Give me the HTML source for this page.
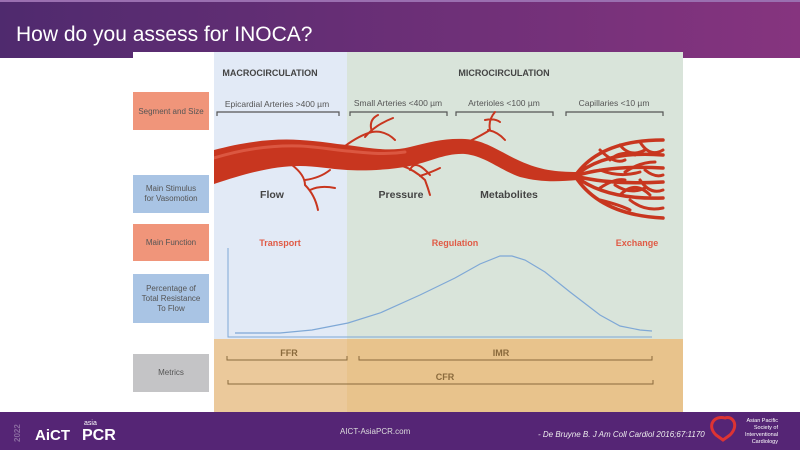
<!DOCTYPE html>
<html><head><meta charset="utf-8"><style>
body{margin:0;width:800px;height:450px;overflow:hidden;background:#fff;font-family:"Liberation Sans",sans-serif}
</style></head><body>
<svg width="800" height="450" xmlns="http://www.w3.org/2000/svg" font-family="Liberation Sans, sans-serif">
<defs>
<linearGradient id="hd" x1="0" x2="1"><stop offset="0" stop-color="#4f2a6e"/><stop offset="1" stop-color="#86347f"/></linearGradient>
<clipPath id="fig"><rect x="214" y="52" width="469" height="287"/></clipPath>
</defs>
<rect width="800" height="58" fill="url(#hd)"/>
<rect y="0" width="800" height="2" fill="#9a6fb0"/>
<text x="16" y="41" fill="#fff" font-size="21">How do you assess for INOCA?</text>
<rect x="133" y="52" width="550" height="360" fill="#fff"/>
<rect x="214" y="52" width="133" height="287" fill="#e2eaf6"/>
<rect x="347" y="52" width="336" height="287" fill="#d9e4da"/>
<rect x="214" y="339" width="133" height="73" fill="#ebc99b"/>
<rect x="347" y="339" width="336" height="73" fill="#e8c38c"/>
<g font-weight="bold" font-size="9" fill="#444" text-anchor="middle">
<text x="270" y="76">MACROCIRCULATION</text><text x="504" y="76">MICROCIRCULATION</text></g>
<g font-size="8.5" fill="#555" text-anchor="middle">
<text x="277" y="107">Epicardial Arteries &gt;400 µm</text>
<text x="398" y="106">Small Arteries &lt;400 µm</text>
<text x="504" y="106">Arterioles &lt;100 µm</text>
<text x="614" y="106">Capillaries &lt;10 µm</text></g>
<g stroke="#555" stroke-width="1.2" fill="none">
<path d="M217 116V112H339V116M350 116V112H447V116M456 116V112H553V116M566 116V112H663V116"/>
</g>
<rect x="133" y="92" width="76" height="38" fill="#f0957a"/>
<rect x="133" y="175" width="76" height="38" fill="#a9c4e4"/>
<rect x="133" y="224" width="76" height="37" fill="#f0957a"/>
<rect x="133" y="274" width="76" height="49" fill="#a9c4e4"/>
<rect x="133" y="354" width="76" height="38" fill="#c4c4c6"/>
<g font-size="8" fill="#555" text-anchor="middle">
<text x="171" y="114">Segment and Size</text>
<text x="171" y="191">Main Stimulus</text><text x="171" y="201">for Vasomotion</text>
<text x="171" y="245">Main Function</text>
<text x="171" y="291">Percentage of</text><text x="171" y="301">Total Resistance</text><text x="171" y="311">To Flow</text>
<text x="171" y="375">Metrics</text></g>
<g clip-path="url(#fig)">
<g stroke="#c8361f" fill="none" stroke-width="2" stroke-linecap="round">
<path d="M345 146Q360 135 372 132Q368 120 378 115M372 132Q385 130 395 140M365 137Q375 125 393 118"/>
<path d="M292 165Q305 175 305 185Q315 195 318 210M305 180Q320 178 330 170M310 190Q320 185 335 188"/>
<path d="M400 165Q415 170 425 180Q428 188 430 195M420 176Q432 172 440 168M410 170Q415 158 430 175"/>
<path d="M470 141Q482 135 490 130Q488 120 495 112M488 130Q498 132 505 140M485 120Q495 118 500 122"/>
<path d="M575 176Q600 140 663 140M575 176Q605 150 663 155M575 176Q610 165 663 168M575 176Q610 185 663 182M575 176Q605 200 663 198M575 176Q600 215 663 218" stroke-width="3.5"/>
<path d="M600 150Q615 165 625 160M620 145Q630 158 645 150M640 142Q650 158 663 150M600 170Q620 178 640 172M615 185Q630 195 645 188M640 180Q650 195 663 190M600 200Q620 205 630 210M630 200Q645 212 663 208M625 172Q640 162 655 162M610 160Q620 150 635 155M620 195Q635 180 650 195M645 170Q655 178 663 175M600 188Q615 178 625 180" stroke-width="3"/>
</g>
<path d="M214 150C240 143 270 138 300 140C320 141 335 144 347 145C370 148 390 152 410 147C430 142 445 138 465 139C485 140 500 152 520 161C540 170 555 172 578 172L578 180C555 182 540 182 520 177C500 170 485 156 465 154C445 153 430 162 410 166C390 170 365 171 347 170C330 169 315 166 300 166C275 166 250 172 214 184Z" fill="#c8361f"/>
<path d="M214 158C240 150 270 145 300 146C320 147 335 150 347 151C370 153 385 155 405 152" stroke="#e0604a" stroke-width="3" fill="none" stroke-linecap="round" opacity="0.8"/>
</g>
<g font-weight="bold" font-size="10.5" fill="#444" text-anchor="middle">
<text x="272" y="198">Flow</text><text x="401" y="198">Pressure</text><text x="509" y="198">Metabolites</text></g>
<g font-weight="bold" font-size="9" fill="#e05a45" text-anchor="middle">
<text x="280" y="246">Transport</text><text x="455" y="246">Regulation</text><text x="637" y="246">Exchange</text></g>
<path d="M228 248V337H652" stroke="#7fa8d6" stroke-width="1" fill="none"/>
<path d="M235 333L280 333L312 330L348 323L380 313L420 295L455 278L480 264L500 256L512 256L525 260L545 272L570 292L600 315L620 326L640 330L652 331" stroke="#7fa8d6" stroke-width="1.2" fill="none"/>
<g stroke="#8a6a3c" stroke-width="1" fill="none">
<path d="M227 356V360H347V356M359 356V360H652V356M228 380V384H653V380"/></g>
<g font-weight="bold" font-size="9" fill="#8a6a3c" text-anchor="middle">
<text x="289" y="356">FFR</text><text x="501" y="356">IMR</text><text x="445" y="380">CFR</text></g>
<rect y="412" width="800" height="38" fill="#552575"/>
<text x="20" y="442" fill="#8a6aa0" font-size="8" font-weight="bold" transform="rotate(-90 20 442)">2022</text>
<text x="35" y="440" fill="#fff" font-size="15" font-weight="bold">AiCT</text>
<text x="82" y="440" fill="#fff" font-size="16" font-weight="bold">PCR</text>
<text x="84" y="425" fill="#fff" font-size="7">asia</text>
<text x="340" y="434" fill="#ddd" font-size="8">AICT-AsiaPCR.com</text>
<text x="538" y="437" fill="#eee" font-size="8" font-style="italic">- De Bruyne B. J Am Coll Cardiol 2016;67:1170</text>
<path d="M725 418C715 415 706 425 716 435L723 440L730 435C740 425 732 415 725 418Z" fill="none" stroke="#d33" stroke-width="3"/>
<g fill="#fff" font-size="5.5" text-anchor="end"><text x="778" y="422">Asian Pacific</text><text x="778" y="429">Society of</text><text x="778" y="436">Interventional</text><text x="778" y="443">Cardiology</text></g>
</svg>
</body></html>
